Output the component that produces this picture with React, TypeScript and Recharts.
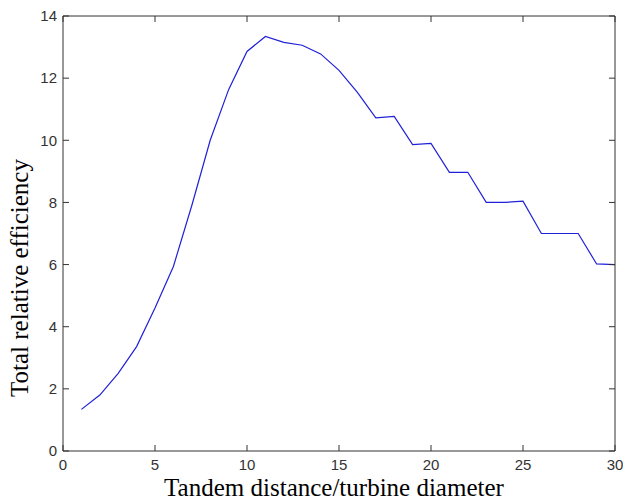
import { LineChart, Line, XAxis, YAxis, Label } from "recharts";

// distance / turbine diameter
const distance = [
  1, 2, 3, 4, 5, 6, 7, 8, 9, 10, 11, 12, 13, 14, 15, 16, 17, 18, 19, 20, 21,
  22, 23, 24, 25, 26, 27, 28, 29, 30,
];
// total relative efficiency
const efficiency = [
  1.34, 1.8, 2.5, 3.36, 4.6, 5.94, 7.9, 10.0, 11.63, 12.86, 13.34, 13.15, 13.06,
  12.78, 12.25, 11.54, 10.72, 10.77, 9.86, 9.9, 8.97, 8.97, 8.0, 8.0, 8.04, 7.0,
  7.0, 7.0, 6.02, 6.0,
];
const xTicks = [0, 5, 10, 15, 20, 25, 30];
const yTicks = [0, 2, 4, 6, 8, 10, 12, 14];

const data = distance.map((d, i) => ({ d, e: efficiency[i] }));

const axisColor = "#333";
const tickFontFamily = "'Liberation Sans', Arial, sans-serif";
const titleFont = "'Liberation Serif', 'Times New Roman', serif";
const TICK = 6;
const X_TICK_GAP = 8;

// matlab style ticks: short marks pointing into the plot box
const BottomTick = (props: any) => {
  const { x, y, payload } = props;
  return (
    <g>
      <line
        x1={x}
        x2={x}
        y1={y - X_TICK_GAP}
        y2={y - X_TICK_GAP - TICK}
        stroke={axisColor}
      />
      <text
        x={x}
        y={y}
        dy="0.71em"
        textAnchor="middle"
        fill="#333"
        fontSize={15}
        fontFamily={tickFontFamily}
      >
        {payload.value}
      </text>
    </g>
  );
};

const LeftTick = (props: any) => {
  const { x, y, payload } = props;
  return (
    <g>
      <line x1={x + 6} x2={x + 6 + TICK} y1={y} y2={y} stroke={axisColor} />
      <text
        x={x}
        y={y}
        dy="0.355em"
        textAnchor="end"
        fill="#333"
        fontSize={15}
        fontFamily={tickFontFamily}
      >
        {payload.value}
      </text>
    </g>
  );
};

const TopTick = (props: any) => {
  const { x, y } = props;
  return <line x1={x} x2={x} y1={y} y2={y + TICK} stroke={axisColor} />;
};

const RightTick = (props: any) => {
  const { x, y } = props;
  return <line x1={x - TICK} x2={x} y1={y} y2={y} stroke={axisColor} />;
};

export default function App() {
  return (
    <div style={{ position: "absolute", left: 0, top: 0, background: "#fff" }}>
      <LineChart
        width={623}
        height={500}
        data={data}
        margin={{ top: 15, right: 7, bottom: 0, left: 0 }}
      >
        <XAxis
          dataKey="d"
          type="number"
          domain={[0, 30]}
          ticks={xTicks}
          height={49}
          tickSize={0}
          tickMargin={X_TICK_GAP}
          tickLine={false}
          stroke={axisColor}
          tick={BottomTick}
          interval={0}
        >
          <Label
            content={() => (
              <text
                x={334}
                y={496}
                textAnchor="middle"
                fontFamily={titleFont}
                fontSize={25}
                fill="#000"
              >
                Tandem distance/turbine diameter
              </text>
            )}
          />
        </XAxis>
        <XAxis
          xAxisId="top"
          orientation="top"
          dataKey="d"
          type="number"
          domain={[0, 30]}
          ticks={xTicks}
          height={1}
          tickSize={0}
          tickMargin={0}
          tickLine={false}
          tick={TopTick}
          stroke={axisColor}
          interval={0}
        />
        <YAxis
          type="number"
          domain={[0, 14]}
          ticks={yTicks}
          width={63}
          tickSize={0}
          tickMargin={6}
          tickLine={false}
          stroke={axisColor}
          tick={LeftTick}
          interval={0}
        >
          <Label
            content={() => (
              <text
                x={28}
                y={278}
                transform="rotate(-90 28 278)"
                textAnchor="middle"
                fontFamily={titleFont}
                fontSize={25}
                fill="#000"
              >
                Total relative efficiency
              </text>
            )}
          />
        </YAxis>
        <YAxis
          yAxisId="right"
          orientation="right"
          type="number"
          domain={[0, 14]}
          ticks={yTicks}
          width={1}
          tickSize={0}
          tickMargin={0}
          tickLine={false}
          tick={RightTick}
          stroke={axisColor}
          interval={0}
        />
        {/* invisible copy so the top/right box axes get drawn */}
        <Line
          xAxisId="top"
          yAxisId="right"
          dataKey="e"
          stroke="none"
          dot={false}
          activeDot={false}
          isAnimationActive={false}
        />
        <Line
          dataKey="e"
          type="linear"
          stroke="#2020d8"
          strokeWidth={1.2}
          dot={false}
          isAnimationActive={false}
        />
      </LineChart>
    </div>
  );
}
